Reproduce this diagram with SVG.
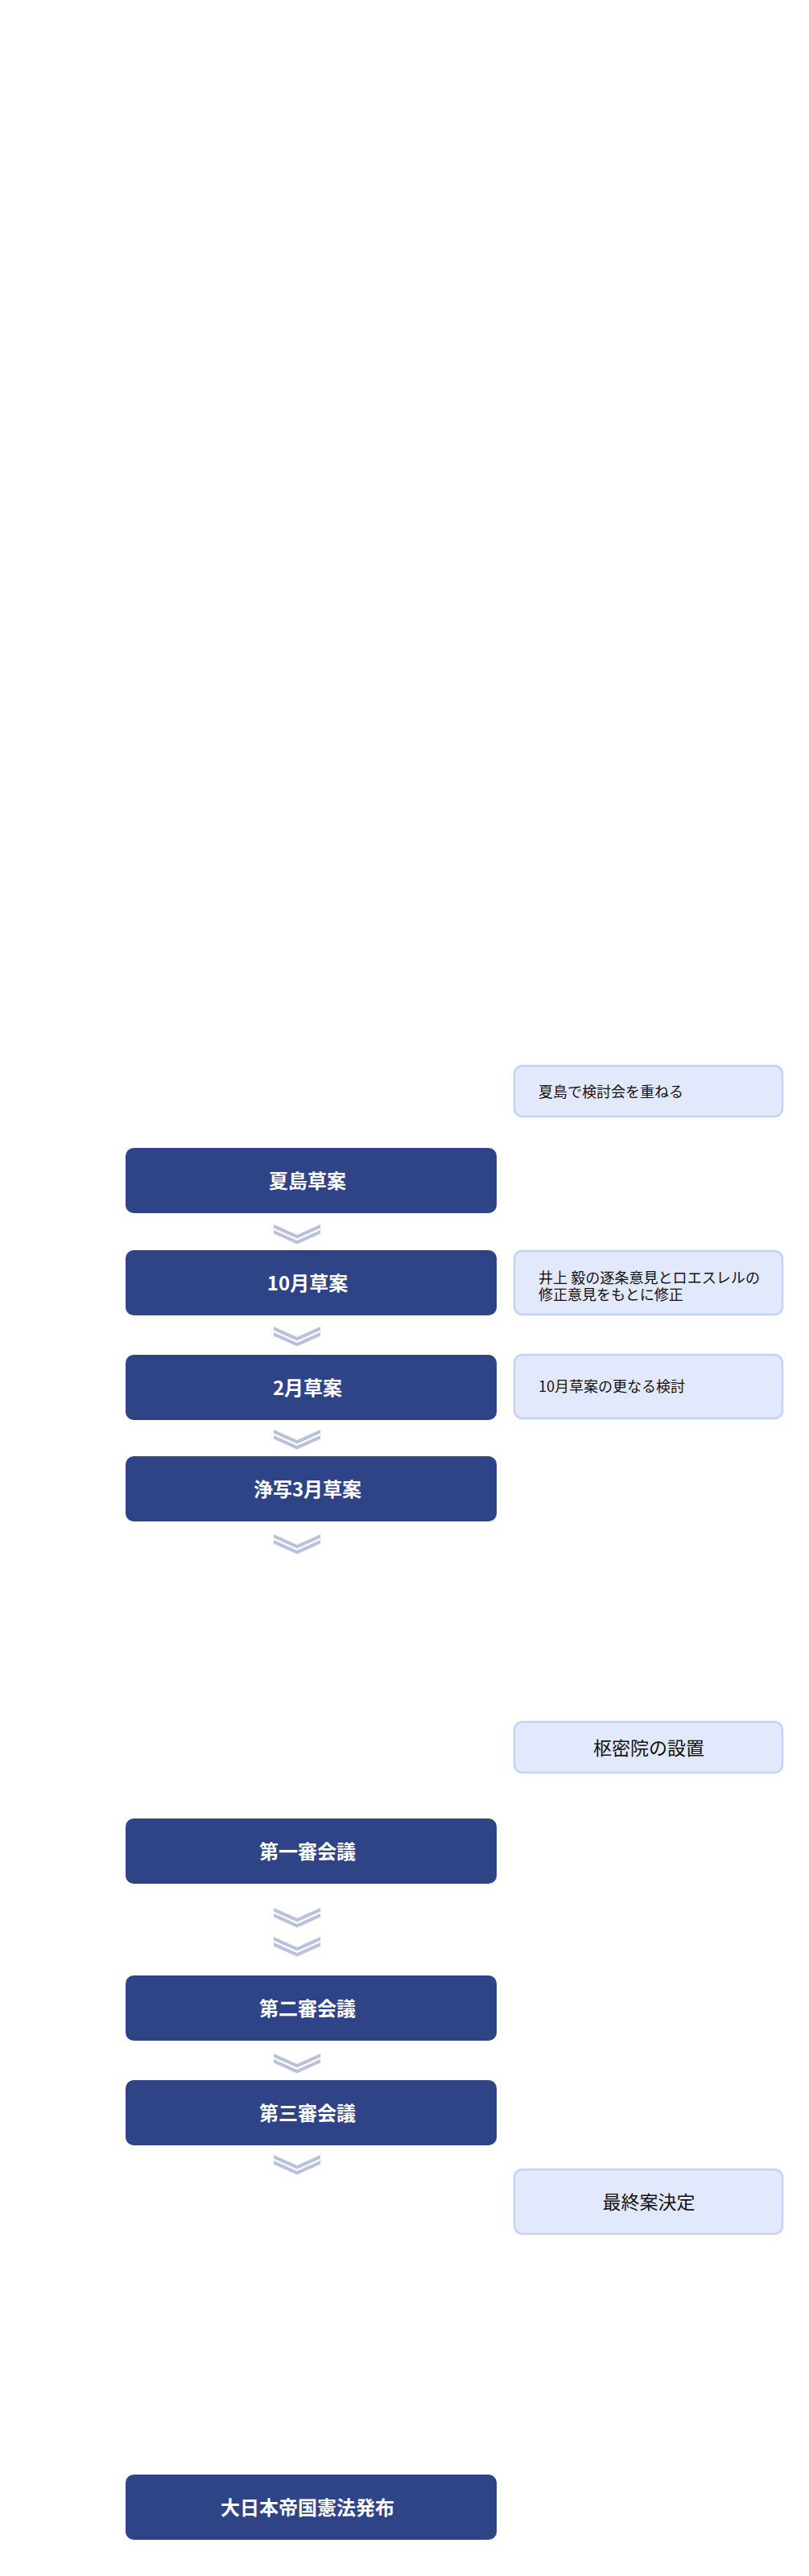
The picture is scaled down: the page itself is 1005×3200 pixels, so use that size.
<svg xmlns="http://www.w3.org/2000/svg" width="1005" height="3200" viewBox="0 0 1005 3200">
<defs>
<style>
.main rect{fill:#2f4387;}
.main text{fill:#ffffff;font-family:"Noto Sans CJK JP","Noto Sans",sans-serif;font-weight:700;font-size:24px;text-anchor:middle;dominant-baseline:central;}
.side rect{fill:#e3e9fc;stroke:#c5d1f6;stroke-width:2.5;}
.side text{fill:#111111;font-family:"Noto Sans CJK JP","Noto Sans",sans-serif;font-size:18px;dominant-baseline:central;}
.side text.big{font-size:23px;text-anchor:middle;}
.chev{fill:#bac1dd;}
</style>
<g id="chevron">
<polygon points="-29,3 0,16 29,3 29,7.5 0,20.5 -29,7.5"/>
<polygon points="-29,7 0,20 29,7 29,11.5 0,24.5 -29,11.5" transform="translate(0,3)"/>
</g>
</defs>
<rect width="1005" height="3200" fill="#ffffff"/>

<g id="connectors" class="chev">
<use href="#chevron" x="369" y="1518"/>
<use href="#chevron" x="369" y="1645"/>
<use href="#chevron" x="369" y="1773"/>
<use href="#chevron" x="369" y="1903"/>
<use href="#chevron" x="369" y="2367"/>
<use href="#chevron" x="369" y="2403"/>
<use href="#chevron" x="369" y="2548"/>
<use href="#chevron" x="369" y="2674"/>
</g>

<g id="side-natsushima" class="side">
<rect x="639" y="1324" width="333" height="63" rx="10"/>
<text x="669" y="1355">夏島で検討会を重ねる</text>
</g>
<g id="natsushima-draft" class="main">
<rect x="156" y="1426" width="461" height="81" rx="10"/>
<text x="382" y="1465">夏島草案</text>
</g>

<g id="october-draft" class="main">
<rect x="156" y="1553" width="461" height="81" rx="10"/>
<text x="382" y="1592">10月草案</text>
</g>
<g id="side-inoue" class="side">
<rect x="639" y="1554" width="333" height="79" rx="10"/>
<text x="669" y="1586" textLength="275" lengthAdjust="spacingAndGlyphs">井上 毅の逐条意見とロエスレルの</text>
<text x="669" y="1607">修正意見をもとに修正</text>
</g>

<g id="february-draft" class="main">
<rect x="156" y="1683" width="461" height="81" rx="10"/>
<text x="382" y="1722">2月草案</text>
</g>
<g id="side-review" class="side">
<rect x="639" y="1683" width="333" height="79" rx="10"/>
<text x="669" y="1721">10月草案の更なる検討</text>
</g>

<g id="march-draft" class="main">
<rect x="156" y="1809" width="461" height="81" rx="10"/>
<text x="382" y="1848">浄写3月草案</text>
</g>

<g id="side-privy-council" class="side">
<rect x="639" y="2139" width="333" height="63" rx="10"/>
<text class="big" x="806" y="2170">枢密院の設置</text>
</g>

<g id="first-session" class="main">
<rect x="156" y="2259" width="461" height="81" rx="10"/>
<text x="382" y="2298">第一審会議</text>
</g>

<g id="second-session" class="main">
<rect x="156" y="2454" width="461" height="81" rx="10"/>
<text x="382" y="2493">第二審会議</text>
</g>

<g id="third-session" class="main">
<rect x="156" y="2584" width="461" height="81" rx="10"/>
<text x="382" y="2623">第三審会議</text>
</g>

<g id="side-final" class="side">
<rect x="639" y="2695" width="333" height="80" rx="10"/>
<text class="big" x="806" y="2734">最終案決定</text>
</g>

<g id="promulgation" class="main">
<rect x="156" y="3074" width="461" height="81" rx="10"/>
<text x="382" y="3113">大日本帝国憲法発布</text>
</g>
</svg>
